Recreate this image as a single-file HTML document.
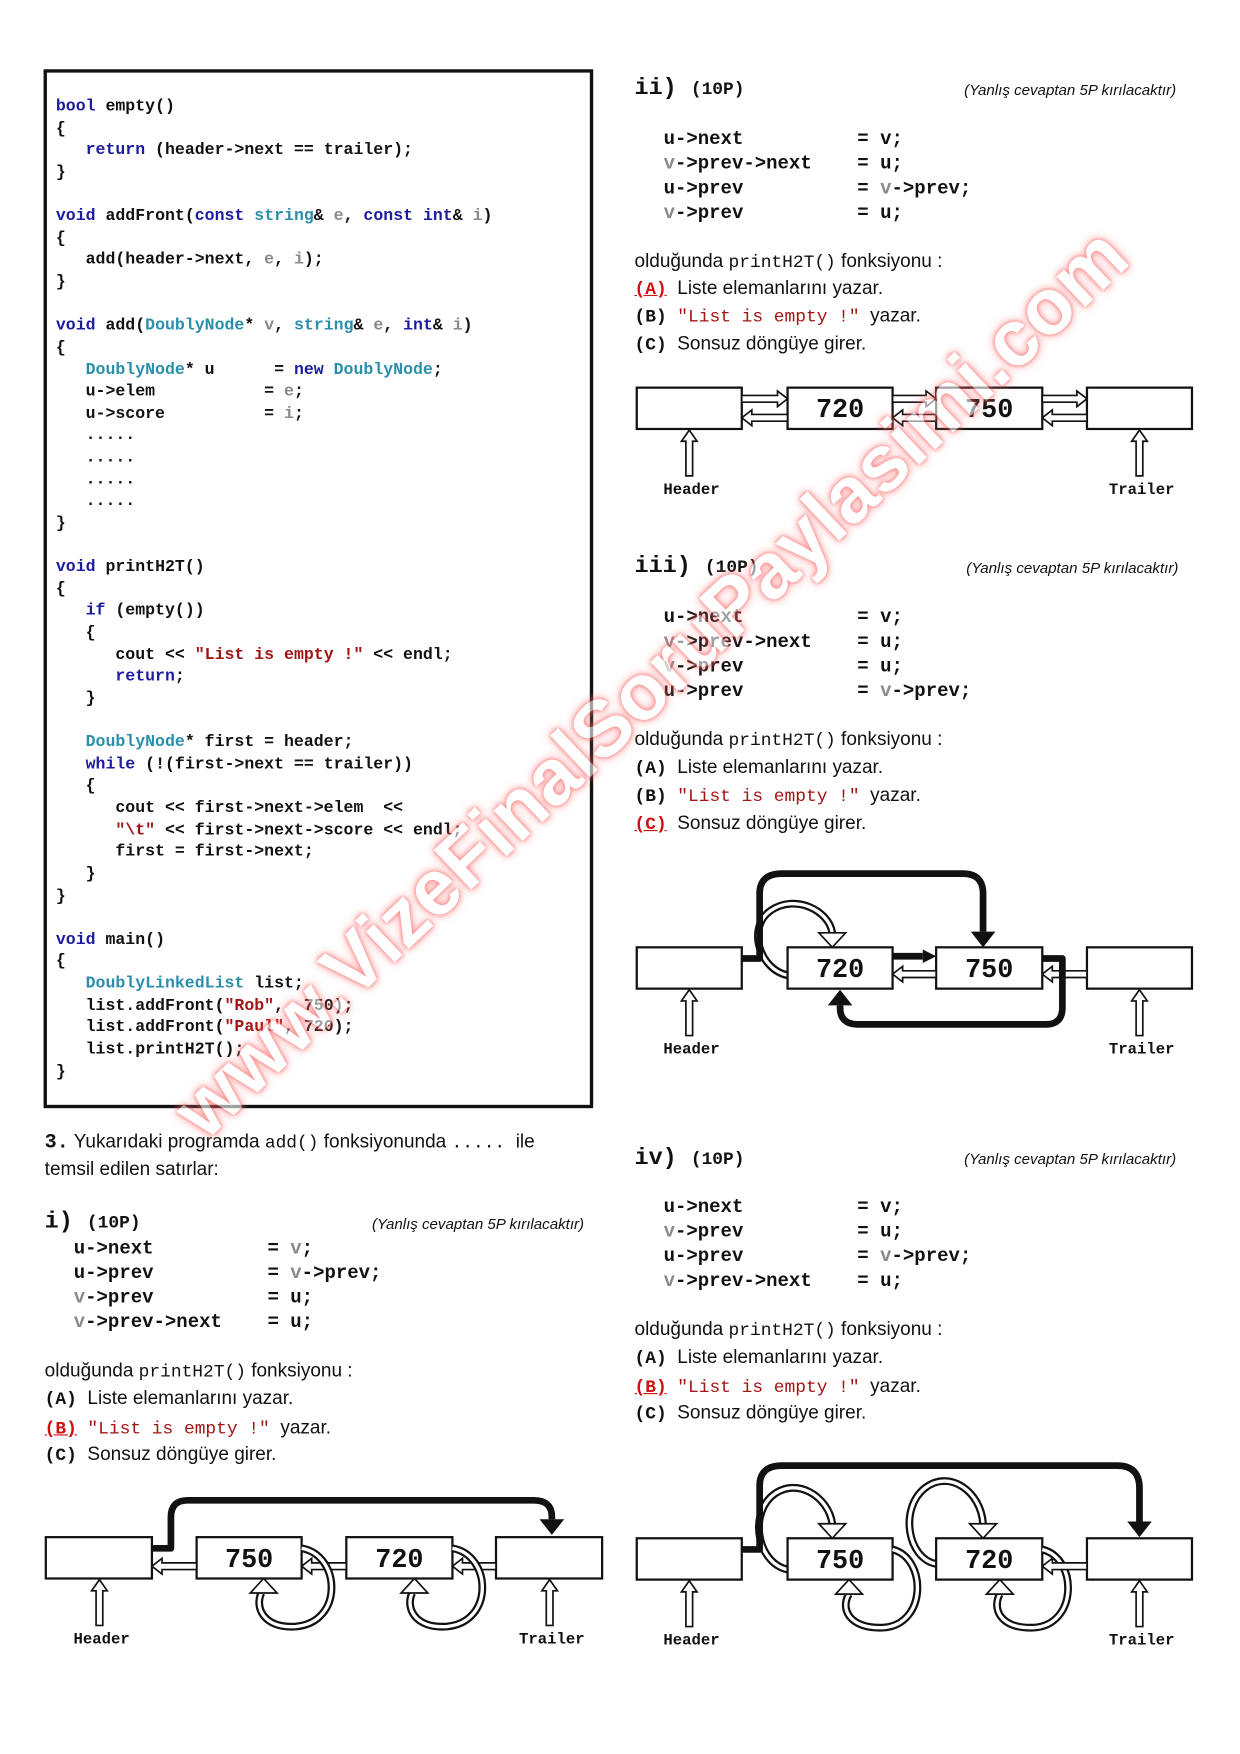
<!DOCTYPE html>
<html><head><meta charset="utf-8"><style>
html,body{margin:0;padding:0;background:#fff;}
body{width:1240px;height:1754px;overflow:hidden;position:relative;}
#w{position:absolute;left:0;top:0;width:1110px;height:1570px;transform:scale(1.11712);transform-origin:0 0;}
.t{position:absolute;white-space:pre;line-height:20px;color:#111;}
.m{font-family:"Liberation Mono",monospace;font-weight:bold;}
.s{font-family:"Liberation Sans",sans-serif;font-size:17px;}
.n{font-family:"Liberation Sans",sans-serif;font-style:italic;font-size:13.5px;}
.k{color:#1c1ca0}.ty{color:#2b8fab}.st{color:#a31515}.g{color:#8a8a8a}.r{color:#d01010;text-decoration:underline}
pre.code{position:absolute;left:50px;top:87px;margin:0;font-family:"Liberation Mono",monospace;font-weight:bold;font-size:14.8px;line-height:19.63px;color:#111;}
#box{position:absolute;left:39px;top:62px;width:486px;height:924px;border:3px solid #111;}
.wm{position:absolute;left:22px;top:600px;width:1060px;text-align:center;font-family:"Liberation Sans",sans-serif;font-weight:bold;font-size:71px;color:#fff;text-shadow:0 0 3px #e33,0 0 6px #f55,0 0 10px #f88;transform:rotate(-43.5deg);opacity:.6;}
</style></head><body><div id="w">
<div id="box"></div>
<pre class="code"><span class="k">bool</span> empty()
{
   <span class="k">return</span> (header->next == trailer);
}

<span class="k">void</span> addFront(<span class="k">const</span> <span class="ty">string</span>&amp; <span class="g">e</span>, <span class="k">const</span> <span class="k">int</span>&amp; <span class="g">i</span>)
{
   add(header->next, <span class="g">e</span>, <span class="g">i</span>);
}

<span class="k">void</span> add(<span class="ty">DoublyNode</span>* <span class="g">v</span>, <span class="ty">string</span>&amp; <span class="g">e</span>, <span class="k">int</span>&amp; <span class="g">i</span>)
{
   <span class="ty">DoublyNode</span>* u      = <span class="k">new</span> <span class="ty">DoublyNode</span>;
   u->elem           = <span class="g">e</span>;
   u->score          = <span class="g">i</span>;
   .....
   .....
   .....
   .....
}

<span class="k">void</span> printH2T()
{
   <span class="k">if</span> (empty())
   {
      cout &lt;&lt; <span class="st">"List is empty !"</span> &lt;&lt; endl;
      <span class="k">return</span>;
   }

   <span class="ty">DoublyNode</span>* first = header;
   <span class="k">while</span> (!(first->next == trailer))
   {
      cout &lt;&lt; first->next->elem  &lt;&lt;
      <span class="st">"\t"</span> &lt;&lt; first->next->score &lt;&lt; endl;
      first = first->next;
   }
}

<span class="k">void</span> main()
{
   <span class="ty">DoublyLinkedList</span> list;
   list.addFront(<span class="st">"Rob"</span>,  750);
   list.addFront(<span class="st">"Paul"</span>, 720);
   list.printH2T();
}</pre>

<!-- left bottom -->
<div class="t s" style="left:40px;top:1012px;"><span class="m" style="font-size:18px">3.</span> Yukarıdaki programda <span class="m" style="font-weight:normal;font-size:16px">add()</span> fonksiyonunda <span class="m" style="font-weight:normal;font-size:16px">.....</span>  ile</div>
<div class="t s" style="left:40px;top:1037px;">temsil edilen satırlar:</div>
<div class="t m" style="left:40px;top:1085px;font-size:21px;">i) <span style="font-size:16px">(10P)</span></div>
<div class="t n" style="left:333px;top:1086px;">(Yanlış cevaptan 5P kırılacaktır)</div>
<div class="t m" style="left:66px;top:1108px;font-size:17px;line-height:22px;">u->next          = <span class="g">v</span>;
u->prev          = <span class="g">v</span>->prev;
<span class="g">v</span>->prev          = u;
<span class="g">v</span>->prev->next    = u;</div>
<div class="t s" style="left:40px;top:1217px;">olduğunda <span class="m" style="font-weight:normal;font-size:16px">printH2T()</span> fonksiyonu :</div>
<div class="t s" style="left:40px;top:1242px;"><span class="m" style="font-size:16px">(A)</span>  Liste elemanlarını yazar.</div>
<div class="t s" style="left:40px;top:1268px;"><span class="m r" style="font-size:16px">(B)</span>  <span class="m st" style="font-weight:normal;font-size:16px">"List is empty !"</span>  yazar.</div>
<div class="t s" style="left:40px;top:1292px;"><span class="m" style="font-size:16px">(C)</span>  Sonsuz döngüye girer.</div>

<!-- right ii -->
<div class="t m" style="left:568px;top:70px;font-size:21px;">ii) <span style="font-size:16px">(10P)</span></div>
<div class="t n" style="left:863px;top:71px;">(Yanlış cevaptan 5P kırılacaktır)</div>
<div class="t m" style="left:594px;top:115px;font-size:17px;line-height:22px;">u->next          = v;
<span class="g">v</span>->prev->next    = u;
u->prev          = <span class="g">v</span>->prev;
<span class="g">v</span>->prev          = u;</div>
<div class="t s" style="left:568px;top:224px;">olduğunda <span class="m" style="font-weight:normal;font-size:16px">printH2T()</span> fonksiyonu :</div>
<div class="t s" style="left:568px;top:248px;"><span class="m r" style="font-size:16px">(A)</span>  Liste elemanlarını yazar.</div>
<div class="t s" style="left:568px;top:273px;"><span class="m" style="font-size:16px">(B)</span>  <span class="m st" style="font-weight:normal;font-size:16px">"List is empty !"</span>  yazar.</div>
<div class="t s" style="left:568px;top:298px;"><span class="m" style="font-size:16px">(C)</span>  Sonsuz döngüye girer.</div>

<!-- iii -->
<div class="t m" style="left:568px;top:498px;font-size:21px;">iii) <span style="font-size:16px">(10P)</span></div>
<div class="t n" style="left:865px;top:499px;">(Yanlış cevaptan 5P kırılacaktır)</div>
<div class="t m" style="left:594px;top:543px;font-size:17px;line-height:22px;">u->next          = v;
<span class="g">v</span>->prev->next    = u;
<span class="g">v</span>->prev          = u;
u->prev          = <span class="g">v</span>->prev;</div>
<div class="t s" style="left:568px;top:652px;">olduğunda <span class="m" style="font-weight:normal;font-size:16px">printH2T()</span> fonksiyonu :</div>
<div class="t s" style="left:568px;top:677px;"><span class="m" style="font-size:16px">(A)</span>  Liste elemanlarını yazar.</div>
<div class="t s" style="left:568px;top:702px;"><span class="m" style="font-size:16px">(B)</span>  <span class="m st" style="font-weight:normal;font-size:16px">"List is empty !"</span>  yazar.</div>
<div class="t s" style="left:568px;top:727px;"><span class="m r" style="font-size:16px">(C)</span>  Sonsuz döngüye girer.</div>

<!-- iv -->
<div class="t m" style="left:568px;top:1028px;font-size:21px;">iv) <span style="font-size:16px">(10P)</span></div>
<div class="t n" style="left:863px;top:1028px;">(Yanlış cevaptan 5P kırılacaktır)</div>
<div class="t m" style="left:594px;top:1071px;font-size:17px;line-height:22px;">u->next          = v;
<span class="g">v</span>->prev          = u;
u->prev          = <span class="g">v</span>->prev;
<span class="g">v</span>->prev->next    = u;</div>
<div class="t s" style="left:568px;top:1180px;">olduğunda <span class="m" style="font-weight:normal;font-size:16px">printH2T()</span> fonksiyonu :</div>
<div class="t s" style="left:568px;top:1205px;"><span class="m" style="font-size:16px">(A)</span>  Liste elemanlarını yazar.</div>
<div class="t s" style="left:568px;top:1231px;"><span class="m r" style="font-size:16px">(B)</span>  <span class="m st" style="font-weight:normal;font-size:16px">"List is empty !"</span>  yazar.</div>
<div class="t s" style="left:568px;top:1255px;"><span class="m" style="font-size:16px">(C)</span>  Sonsuz döngüye girer.</div>

<svg id="sv" width="1110" height="1570" style="position:absolute;left:0;top:0" xmlns="http://www.w3.org/2000/svg" font-family="Liberation Mono, monospace" font-weight="bold"></svg>
<div class="wm">www.VizeFinalSoruPaylasimi.com</div>
</div>
<script>
var S=document.getElementById('sv'),h='';
function box(x,y,w,hh,lab){h+='<rect x="'+x+'" y="'+y+'" width="'+w+'" height="'+hh+'" fill="#fff" stroke="#111" stroke-width="2"/>';if(lab)h+='<text x="'+(x+w/2)+'" y="'+(y+hh/2+8)+'" font-size="24" text-anchor="middle" fill="#111">'+lab+'</text>';}
function ha(x1,x2,y){var d=x2>x1?1:-1,hx=x2-d*9;h+='<polygon points="'+x1+','+(y-3)+' '+hx+','+(y-3)+' '+hx+','+(y-7)+' '+x2+','+y+' '+hx+','+(y+7)+' '+hx+','+(y+3)+' '+x1+','+(y+3)+'" fill="#fff" stroke="#111" stroke-width="1.5"/>';}
function va(x,y1,y2){var hy=y2+10;h+='<polygon points="'+(x-3)+','+y1+' '+(x-3)+','+hy+' '+(x-7)+','+hy+' '+x+','+y2+' '+(x+7)+','+hy+' '+(x+3)+','+hy+' '+(x+3)+','+y1+'" fill="#fff" stroke="#111" stroke-width="1.5"/>';}
function lbl(x,y,t){h+='<text x="'+x+'" y="'+y+'" font-size="14" text-anchor="middle" fill="#111">'+t+'</text>';}
function thick(d){h+='<path d="'+d+'" fill="none" stroke="#111" stroke-width="6" stroke-linejoin="round"/>';}
function tri(x,y,dir){var p=dir=='d'?[(x-11)+','+(y-14),(x+11)+','+(y-14),x+','+y]:dir=='u'?[(x-11)+','+(y+14),(x+11)+','+(y+14),x+','+y]:[(x-12)+','+(y-6),(x-12)+','+(y+6),x+','+y];h+='<polygon points="'+p.join(' ')+'" fill="#111"/>';}
function tube(d){h+='<path d="'+d+'" fill="none" stroke="#111" stroke-width="7"/><path d="'+d+'" fill="none" stroke="#fff" stroke-width="3"/>';}
function htri(x,y,dir){var p=dir=='d'?[(x-12)+','+(y-13),(x+12)+','+(y-13),x+','+y]:[(x-12)+','+(y+13),(x+12)+','+(y+13),x+','+y];h+='<polygon points="'+p.join(' ')+'" fill="#fff" stroke="#111" stroke-width="1.5"/>';}
// ii
var y=347;box(570,y,94,37);box(705,y,94,37,'720');box(838,y,95,37,'750');box(973,y,94,37);
ha(664,705,357);ha(705,664,374);ha(799,838,357);ha(838,799,374);ha(933,973,357);ha(973,933,374);
va(617,426,385);va(1020,426,385);lbl(619,442,'Header');lbl(1022,442,'Trailer');
// iii
y=848;
tube('M705 873 C680 868 668 830 690 815 C712 800 742 815 745 835');htri(745,848,'d');
thick('M664 858 L680 858 L680 800 Q680 782 700 782 L862 782 Q880 782 880 800 L880 834');tri(880,848,'d');
box(570,y,94,37);box(705,y,94,37,'720');box(838,y,95,37,'750');box(973,y,94,37);
thick('M799 856 L826 856');tri(838,856,'r');
ha(838,799,872);ha(973,933,872);
thick('M933 858 L951 858 L951 902 Q951 917 936 917 L768 917 Q752 917 752 902 L752 900');tri(752,886,'u');
va(617,927,886);va(1020,927,886);lbl(619,943,'Header');lbl(1022,943,'Trailer');
// iv
y=1377;
tube('M705 1405 C680 1400 670 1360 690 1340 C712 1320 742 1340 745 1364');htri(745,1377,'d');
tube('M838 1400 C812 1395 805 1350 828 1332 C850 1315 878 1335 880 1364');htri(880,1377,'d');
thick('M664 1387 L680 1387 L680 1330 Q680 1312 700 1312 L1000 1312 Q1020 1312 1020 1332 L1020 1362');tri(1020,1376,'d');
box(570,y,94,37);box(705,y,94,37,'750');box(838,y,95,37,'720');box(973,y,94,37);
tube('M799 1387 C830 1395 830 1455 790 1457 C760 1458 752 1440 760 1427');htri(760,1414,'u');
tube('M933 1387 C965 1395 965 1455 925 1457 C895 1458 888 1440 895 1427');htri(895,1414,'u');
ha(973,933,1402);
va(617,1456,1415);va(1020,1456,1415);lbl(619,1472,'Header');lbl(1022,1472,'Trailer');
// i
y=1376;
thick('M136 1386 L153 1386 L153 1358 Q153 1343 168 1343 L478 1343 Q494 1343 494 1358 L494 1360');tri(494,1374,'d');
box(41,y,95,37);box(176,y,94,37,'750');box(310,y,95,37,'720');box(444,y,95,37);
ha(176,136,1402);ha(310,270,1402);ha(444,405,1402);
tube('M270 1386 C305 1392 308 1452 265 1456 C235 1458 228 1438 234 1426');htri(236,1413,'u');
tube('M405 1386 C440 1392 443 1452 400 1456 C370 1458 363 1438 369 1426');htri(371,1413,'u');
va(89,1455,1414);va(492,1455,1414);lbl(91,1471,'Header');lbl(494,1471,'Trailer');
S.innerHTML=h;
</script>
</body></html>
